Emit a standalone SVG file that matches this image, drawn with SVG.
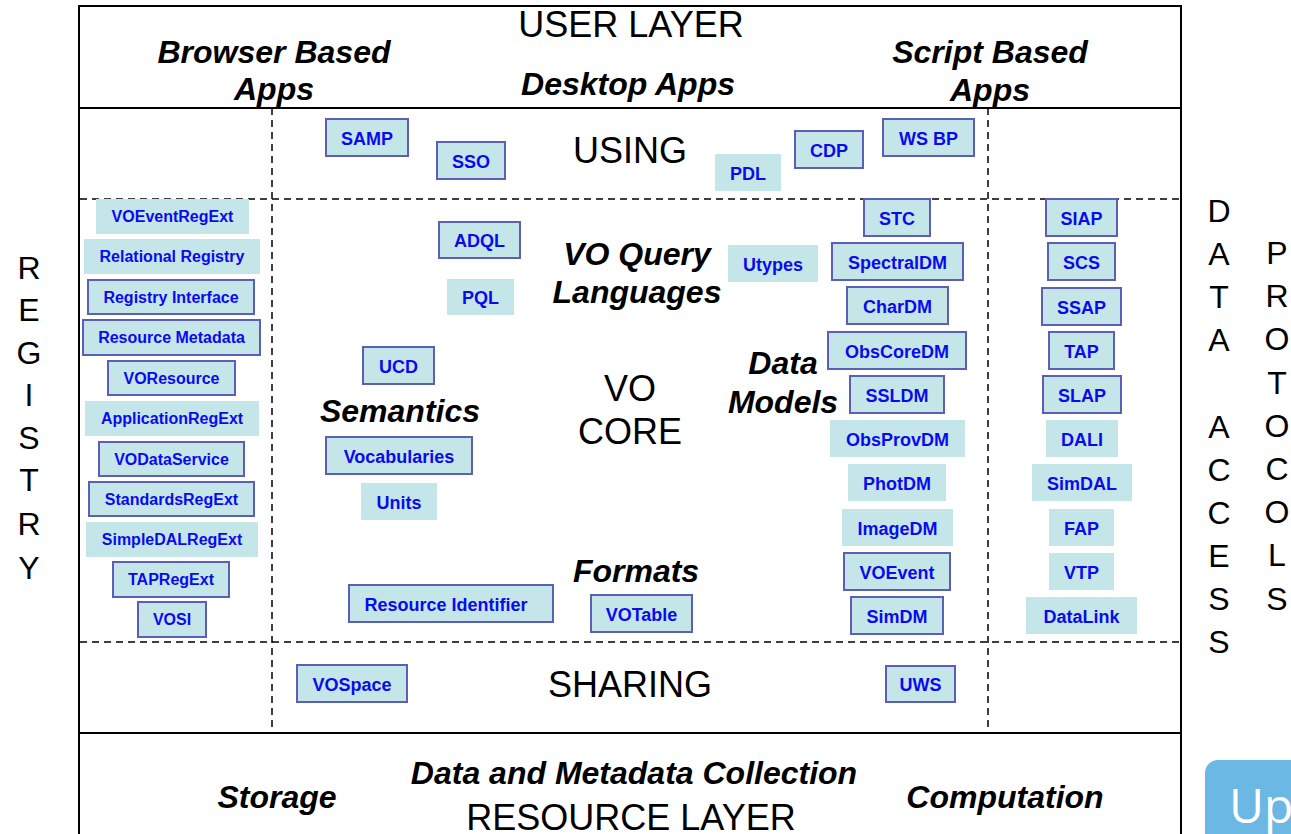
<svg xmlns="http://www.w3.org/2000/svg" width="1291" height="834" viewBox="0 0 1291 834">
<style>
.bx{fill:#C5E6E8}
.bb{fill:#C5E6E8;stroke:#5B5FB8;stroke-width:2}
.t{font-family:"Liberation Sans",Arial,sans-serif;font-weight:bold;font-size:18px;fill:#0A0AEE;text-anchor:middle}
.ts{font-size:16px}
.big{font-family:"Liberation Sans",Arial,sans-serif;font-size:36px;fill:#000;text-anchor:middle}
.bi{font-family:"Liberation Sans",Arial,sans-serif;font-size:32px;font-weight:bold;font-style:italic;fill:#000;text-anchor:middle}
.v{font-family:"Liberation Sans",Arial,sans-serif;font-size:32px;fill:#000;text-anchor:middle}
.solid{stroke:#000;stroke-width:2;fill:none}
.dash{stroke:#000;stroke-width:1.5;stroke-dasharray:7,5;fill:none}
</style>
<rect width="1291" height="834" fill="#fff"/>
<g id="frame">
<path class="solid" d="M79,840 V6 H1181 V840"/>
<line class="solid" x1="79" y1="108" x2="1181" y2="108"/>
<line class="solid" x1="79" y1="733" x2="1181" y2="733"/>
<line class="dash" x1="80" y1="199" x2="1181" y2="199"/>
<line class="dash" x1="80" y1="642" x2="1181" y2="642"/>
<line class="dash" x1="272" y1="108" x2="272" y2="733"/>
<line class="dash" x1="988" y1="108" x2="988" y2="733"/>
</g>
<g id="labels">
<text class="big" x="631" y="37">USER LAYER</text>
<text class="bi" x="274" y="63">Browser Based</text>
<text class="bi" x="274" y="100">Apps</text>
<text class="bi" x="628" y="95">Desktop Apps</text>
<text class="bi" x="990" y="63">Script Based</text>
<text class="bi" x="990" y="101">Apps</text>
<text class="big" x="630" y="163">USING</text>
<text class="bi" x="637" y="265">VO Query</text>
<text class="bi" x="637" y="303">Languages</text>
<text class="big" x="630" y="401">VO</text>
<text class="big" x="630" y="444">CORE</text>
<text class="bi" x="400" y="422">Semantics</text>
<text class="bi" x="783" y="374">Data</text>
<text class="bi" x="783" y="413">Models</text>
<text class="bi" x="636" y="582">Formats</text>
<text class="big" x="630" y="697">SHARING</text>
<text class="bi" x="634" y="784">Data and Metadata Collection</text>
<text class="bi" x="277" y="808">Storage</text>
<text class="bi" x="1005" y="808">Computation</text>
<text class="big" x="631" y="830">RESOURCE LAYER</text>
<text class="v" x="29" y="279">R</text>
<text class="v" x="29" y="321">E</text>
<text class="v" x="29" y="364">G</text>
<text class="v" x="29" y="406">I</text>
<text class="v" x="29" y="449">S</text>
<text class="v" x="29" y="491">T</text>
<text class="v" x="29" y="535">R</text>
<text class="v" x="29" y="579">Y</text>
<text class="v" x="1219" y="222">D</text>
<text class="v" x="1219" y="265">A</text>
<text class="v" x="1219" y="308">T</text>
<text class="v" x="1219" y="351">A</text>
<text class="v" x="1219" y="438">A</text>
<text class="v" x="1219" y="481">C</text>
<text class="v" x="1219" y="524">C</text>
<text class="v" x="1219" y="567">E</text>
<text class="v" x="1219" y="610">S</text>
<text class="v" x="1219" y="653">S</text>
<text class="v" x="1277" y="264">P</text>
<text class="v" x="1277" y="307">R</text>
<text class="v" x="1277" y="350">O</text>
<text class="v" x="1277" y="394">T</text>
<text class="v" x="1277" y="437">O</text>
<text class="v" x="1277" y="480">C</text>
<text class="v" x="1277" y="523">O</text>
<text class="v" x="1277" y="566">L</text>
<text class="v" x="1277" y="610">S</text>
</g>
<g id="n-voeventregext"><rect class="bx" x="96" y="199" width="153" height="35"/><text class="t ts" x="172.5" y="222">VOEventRegExt</text></g>
<g id="n-relational"><rect class="bx" x="84" y="239" width="176" height="35"/><text class="t ts" x="172" y="262">Relational Registry</text></g>
<g id="n-reginterface"><rect class="bb" x="88" y="280" width="166" height="34"/><text class="t ts" x="171" y="303">Registry Interface</text></g>
<g id="n-resmeta"><rect class="bb" x="83" y="320" width="177" height="35"/><text class="t ts" x="171.5" y="343">Resource Metadata</text></g>
<g id="n-voresource"><rect class="bb" x="108" y="361" width="127" height="34"/><text class="t ts" x="171.5" y="384">VOResource</text></g>
<g id="n-appregext"><rect class="bx" x="85" y="401" width="174" height="35"/><text class="t ts" x="172" y="424">ApplicationRegExt</text></g>
<g id="n-vodataservice"><rect class="bb" x="99" y="442" width="145" height="34"/><text class="t ts" x="171.5" y="465">VODataService</text></g>
<g id="n-stdregext"><rect class="bb" x="89" y="482" width="165" height="34"/><text class="t ts" x="171.5" y="505">StandardsRegExt</text></g>
<g id="n-sdalregext"><rect class="bx" x="86" y="522" width="172" height="35"/><text class="t ts" x="172" y="545">SimpleDALRegExt</text></g>
<g id="n-tapregext"><rect class="bb" x="113" y="562" width="116" height="35"/><text class="t ts" x="171" y="585">TAPRegExt</text></g>
<g id="n-vosi"><rect class="bb" x="138" y="602" width="68" height="35"/><text class="t ts" x="172" y="625">VOSI</text></g>
<g id="n-samp"><rect class="bb" x="326" y="119" width="82" height="37"/><text class="t" x="367" y="145">SAMP</text></g>
<g id="n-sso"><rect class="bb" x="437" y="142" width="68" height="37"/><text class="t" x="471" y="168">SSO</text></g>
<g id="n-pdl"><rect class="bx" x="715" y="154" width="66" height="37"/><text class="t" x="748" y="180">PDL</text></g>
<g id="n-cdp"><rect class="bb" x="795" y="131" width="68" height="37"/><text class="t" x="829" y="157">CDP</text></g>
<g id="n-wsbp"><rect class="bb" x="883" y="119" width="91" height="37"/><text class="t" x="928.5" y="145">WS BP</text></g>
<g id="n-adql"><rect class="bb" x="439" y="222" width="81" height="36"/><text class="t" x="479.5" y="247">ADQL</text></g>
<g id="n-pql"><rect class="bx" x="447" y="279" width="67" height="36"/><text class="t" x="480.5" y="304">PQL</text></g>
<g id="n-utypes"><rect class="bx" x="728" y="245" width="90" height="37"/><text class="t" x="773" y="271">Utypes</text></g>
<g id="n-ucd"><rect class="bb" x="363" y="347" width="71" height="37"/><text class="t" x="398.5" y="373">UCD</text></g>
<g id="n-vocab"><rect class="bb" x="326" y="437" width="146" height="37"/><text class="t" x="399" y="463">Vocabularies</text></g>
<g id="n-units"><rect class="bx" x="361" y="483" width="76" height="37"/><text class="t" x="399" y="509">Units</text></g>
<g id="n-resid"><rect class="bb" x="349" y="585" width="204" height="37"/><text class="t" x="446" y="611">Resource Identifier</text></g>
<g id="n-votable"><rect class="bb" x="591" y="595" width="101" height="37"/><text class="t" x="641.5" y="621">VOTable</text></g>
<g id="n-stc"><rect class="bb" x="864" y="199" width="66" height="37"/><text class="t" x="897" y="225">STC</text></g>
<g id="n-spectraldm"><rect class="bb" x="832" y="243" width="131" height="37"/><text class="t" x="897.5" y="269">SpectralDM</text></g>
<g id="n-chardm"><rect class="bb" x="847" y="287" width="101" height="37"/><text class="t" x="897.5" y="313">CharDM</text></g>
<g id="n-obscoredm"><rect class="bb" x="828" y="332" width="138" height="37"/><text class="t" x="897" y="358">ObsCoreDM</text></g>
<g id="n-ssldm"><rect class="bb" x="850" y="376" width="94" height="37"/><text class="t" x="897" y="402">SSLDM</text></g>
<g id="n-obsprovdm"><rect class="bx" x="830" y="420" width="135" height="37"/><text class="t" x="897.5" y="446">ObsProvDM</text></g>
<g id="n-photdm"><rect class="bx" x="848" y="464" width="98" height="37"/><text class="t" x="897" y="490">PhotDM</text></g>
<g id="n-imagedm"><rect class="bx" x="842" y="509" width="111" height="37"/><text class="t" x="897.5" y="535">ImageDM</text></g>
<g id="n-voevent"><rect class="bb" x="844" y="553" width="106" height="37"/><text class="t" x="897" y="579">VOEvent</text></g>
<g id="n-simdm"><rect class="bb" x="851" y="597" width="92" height="37"/><text class="t" x="897" y="623">SimDM</text></g>
<g id="n-siap"><rect class="bb" x="1046" y="199" width="71" height="37"/><text class="t" x="1081.5" y="225">SIAP</text></g>
<g id="n-scs"><rect class="bb" x="1048" y="243" width="67" height="37"/><text class="t" x="1081.5" y="269">SCS</text></g>
<g id="n-ssap"><rect class="bb" x="1042" y="288" width="79" height="37"/><text class="t" x="1081.5" y="314">SSAP</text></g>
<g id="n-tap"><rect class="bb" x="1049" y="332" width="65" height="37"/><text class="t" x="1081.5" y="358">TAP</text></g>
<g id="n-slap"><rect class="bb" x="1043" y="376" width="78" height="37"/><text class="t" x="1082" y="402">SLAP</text></g>
<g id="n-dali"><rect class="bx" x="1046" y="420" width="72" height="37"/><text class="t" x="1082" y="446">DALI</text></g>
<g id="n-simdal"><rect class="bx" x="1032" y="464" width="100" height="37"/><text class="t" x="1082" y="490">SimDAL</text></g>
<g id="n-fap"><rect class="bx" x="1049" y="509" width="65" height="37"/><text class="t" x="1081.5" y="535">FAP</text></g>
<g id="n-vtp"><rect class="bx" x="1049" y="553" width="65" height="37"/><text class="t" x="1081.5" y="579">VTP</text></g>
<g id="n-datalink"><rect class="bx" x="1026" y="597" width="111" height="37"/><text class="t" x="1081.5" y="623">DataLink</text></g>
<g id="n-vospace"><rect class="bb" x="297" y="665" width="110" height="37"/><text class="t" x="352" y="691">VOSpace</text></g>
<g id="n-uws"><rect class="bb" x="886" y="666" width="69" height="36"/><text class="t" x="920.5" y="691">UWS</text></g>
<g id="connectors"></g>
<g id="upbutton"><rect x="1205" y="760" width="110" height="110" rx="13" fill="#6CB8E4"/><text x="1229" y="823" font-family="'Open Sans',Lato,sans-serif" font-size="48" fill="#fff">Up</text></g>
</svg>
